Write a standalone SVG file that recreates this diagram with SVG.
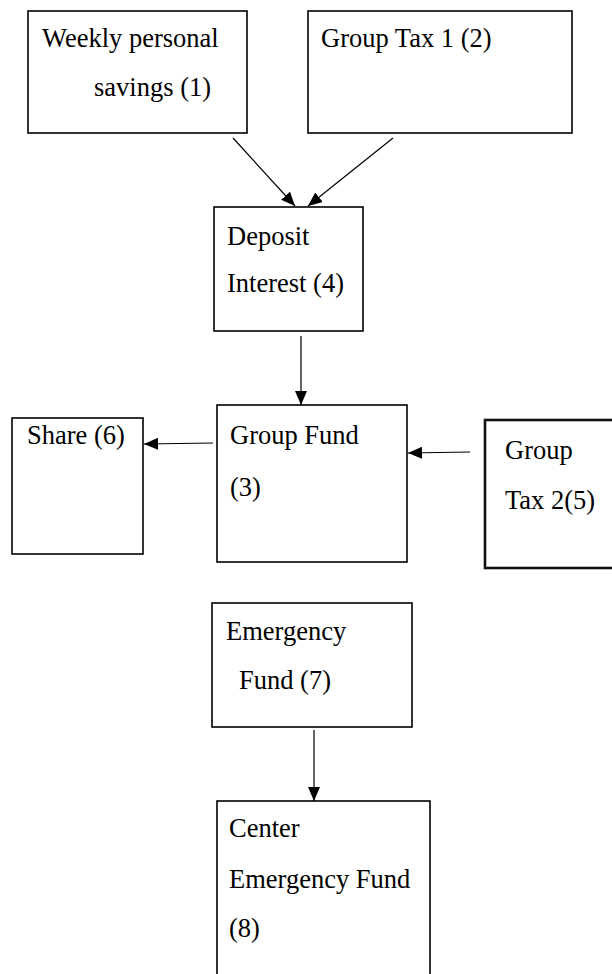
<svg xmlns="http://www.w3.org/2000/svg" width="612" height="974" viewBox="0 0 612 974">
<style>
.box{fill:#fff;stroke:#000;stroke-width:1.6}
.box2{fill:#fff;stroke:#111;stroke-width:2.6}
.t{font-family:"Liberation Serif","Times New Roman",serif;font-size:26.5px;fill:#000}
.c{stroke:#000;stroke-width:1.2;fill:none}
</style>
<defs>
<marker id="ah" viewBox="0 0 14 12" refX="14" refY="6" markerWidth="14" markerHeight="12" markerUnits="userSpaceOnUse" orient="auto">
<path d="M0,0 L14,6 L0,12 Z" fill="#000"/>
</marker>
</defs>
<rect width="612" height="974" fill="#fff"/>
<g id="n1"><rect class="box" x="28" y="11" width="219" height="122"/><text class="t" x="42" y="47">Weekly personal</text><text class="t" x="94" y="96">savings (1)</text></g>
<g id="n2"><rect class="box" x="308" y="11" width="264" height="122"/><text class="t" x="321" y="47">Group Tax 1 (2)</text></g>
<g id="n4"><rect class="box" x="214" y="207" width="149" height="124"/><text class="t" x="227" y="245">Deposit</text><text class="t" x="227" y="292">Interest (4)</text></g>
<g id="n3"><rect class="box" x="217" y="405" width="190" height="157"/><text class="t" x="230" y="444">Group Fund</text><text class="t" x="230" y="496">(3)</text></g>
<g id="n6"><rect class="box" x="12" y="418" width="131" height="136"/><text class="t" x="27" y="444">Share (6)</text></g>
<g id="n5"><rect class="box2" x="485" y="420" width="140" height="148"/><text class="t" x="505" y="459">Group</text><text class="t" x="505" y="509">Tax 2(5)</text></g>
<g id="n7"><rect class="box" x="212" y="603" width="200" height="124"/><text class="t" x="226" y="640">Emergency</text><text class="t" x="239" y="689">Fund (7)</text></g>
<g id="n8"><rect class="box" x="217" y="801" width="213" height="190"/><text class="t" x="229" y="837">Center</text><text class="t" x="229" y="888">Emergency Fund</text><text class="t" x="229" y="937">(8)</text></g>
<g id="connectors">
<line class="c" x1="233" y1="138" x2="295" y2="206" marker-end="url(#ah)"/>
<line class="c" x1="393" y1="138" x2="308" y2="206" marker-end="url(#ah)"/>
<line class="c" x1="301" y1="336" x2="301" y2="405" marker-end="url(#ah)"/>
<line class="c" x1="213" y1="443" x2="144" y2="444" marker-end="url(#ah)"/>
<line class="c" x1="470" y1="452" x2="408" y2="453" marker-end="url(#ah)"/>
<line class="c" x1="314" y1="730" x2="314" y2="801" marker-end="url(#ah)"/>
</g>
</svg>
